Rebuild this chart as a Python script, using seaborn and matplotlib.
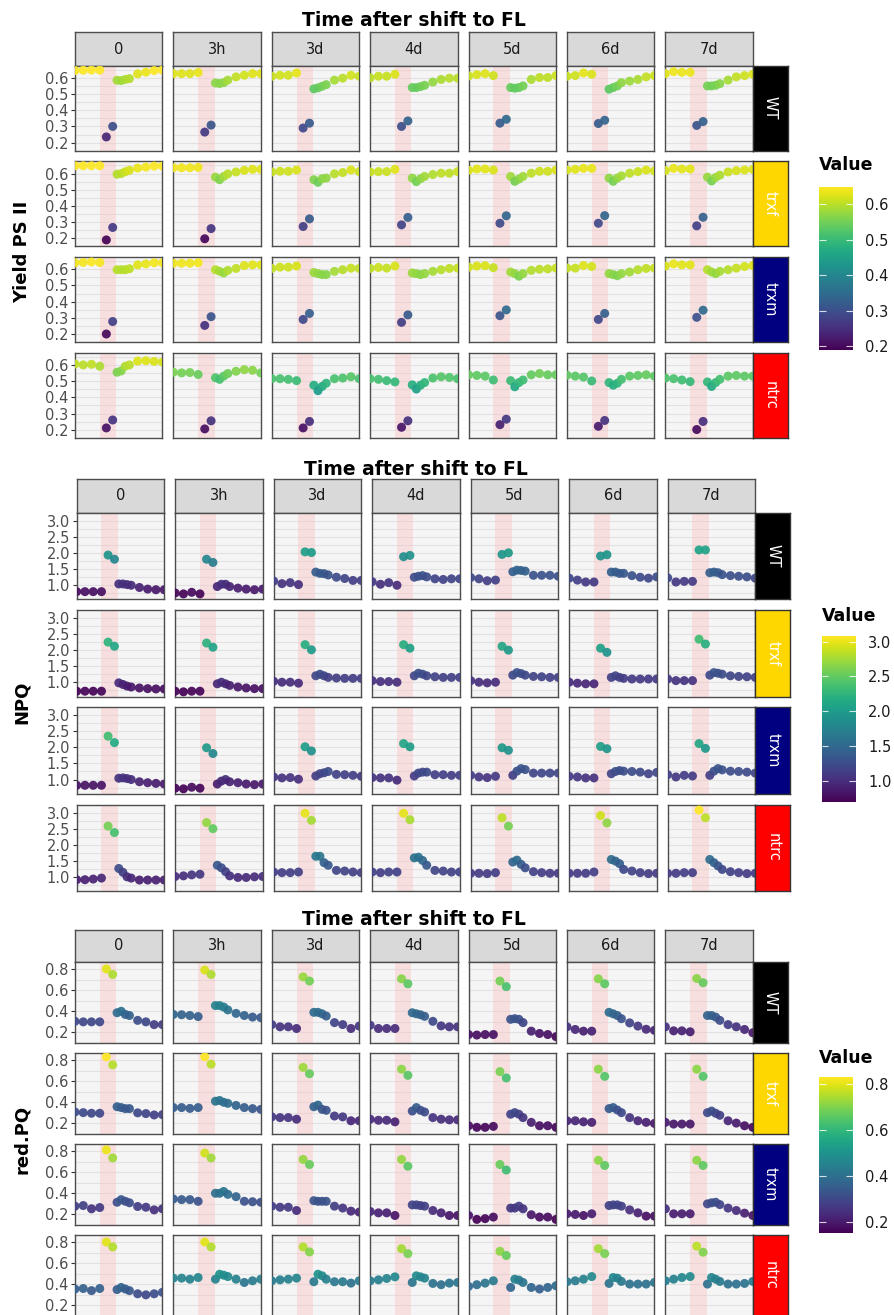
import numpy as np
import pandas as pd
import matplotlib
matplotlib.use("Agg")
import matplotlib.pyplot as plt
import seaborn as sns
from matplotlib.colors import Normalize
from matplotlib.cm import ScalarMappable
from matplotlib.ticker import FormatStrFormatter

# facets
times = ["0", "3h", "3d", "4d", "5d", "6d", "7d"]
genotypes = ["WT", "trxf", "trxm", "ntrc"]
geno_colors = ["#000000", "#FFD700", "#000080", "#FF0000"]

# measurement times inside one protocol (pre, high light, recovery)
x_time = [0, 1, 2, 3, 3.8, 4.57, 5.1, 5.6, 6.1, 6.6, 7.6, 8.6, 9.6, 10.6]

# ---- Yield PS II ----
yield_WT = [
    [0.645, 0.647, 0.648, 0.648, 0.235, 0.300, 0.585, 0.583, 0.590, 0.595, 0.625, 0.635, 0.645, 0.648],
    [0.626, 0.626, 0.626, 0.633, 0.265, 0.308, 0.568, 0.565, 0.570, 0.586, 0.606, 0.616, 0.626, 0.626],
    [0.610, 0.616, 0.616, 0.630, 0.290, 0.320, 0.532, 0.538, 0.548, 0.558, 0.586, 0.598, 0.616, 0.610],
    [0.600, 0.610, 0.610, 0.622, 0.300, 0.334, 0.540, 0.540, 0.546, 0.554, 0.574, 0.590, 0.598, 0.598],
    [0.612, 0.620, 0.626, 0.614, 0.320, 0.344, 0.540, 0.536, 0.540, 0.550, 0.590, 0.602, 0.602, 0.614],
    [0.610, 0.614, 0.630, 0.622, 0.318, 0.338, 0.530, 0.540, 0.550, 0.570, 0.580, 0.590, 0.606, 0.614],
    [0.626, 0.638, 0.634, 0.634, 0.306, 0.330, 0.550, 0.550, 0.554, 0.564, 0.586, 0.606, 0.614, 0.622],
]
yield_trxf = [
    [0.648, 0.648, 0.648, 0.648, 0.190, 0.267, 0.596, 0.600, 0.611, 0.620, 0.634, 0.640, 0.646, 0.646],
    [0.636, 0.636, 0.636, 0.638, 0.197, 0.260, 0.578, 0.562, 0.582, 0.598, 0.610, 0.620, 0.626, 0.626],
    [0.610, 0.614, 0.614, 0.622, 0.273, 0.320, 0.562, 0.546, 0.568, 0.572, 0.598, 0.606, 0.622, 0.612],
    [0.610, 0.612, 0.612, 0.626, 0.283, 0.329, 0.572, 0.550, 0.568, 0.582, 0.594, 0.602, 0.602, 0.612],
    [0.620, 0.628, 0.628, 0.622, 0.293, 0.339, 0.582, 0.552, 0.566, 0.582, 0.602, 0.614, 0.614, 0.622],
    [0.622, 0.626, 0.632, 0.632, 0.293, 0.340, 0.572, 0.552, 0.572, 0.586, 0.602, 0.612, 0.622, 0.616],
    [0.618, 0.632, 0.628, 0.628, 0.277, 0.330, 0.578, 0.554, 0.576, 0.590, 0.610, 0.618, 0.622, 0.626],
]
yield_trxm = [
    [0.640, 0.642, 0.645, 0.642, 0.200, 0.277, 0.597, 0.597, 0.597, 0.603, 0.627, 0.633, 0.640, 0.640],
    [0.637, 0.637, 0.637, 0.640, 0.253, 0.307, 0.597, 0.587, 0.577, 0.593, 0.605, 0.623, 0.627, 0.627],
    [0.605, 0.613, 0.613, 0.620, 0.290, 0.327, 0.580, 0.573, 0.567, 0.567, 0.587, 0.597, 0.607, 0.605],
    [0.605, 0.611, 0.607, 0.620, 0.272, 0.318, 0.577, 0.573, 0.567, 0.573, 0.587, 0.597, 0.605, 0.607],
    [0.613, 0.620, 0.622, 0.610, 0.313, 0.349, 0.583, 0.573, 0.557, 0.573, 0.593, 0.600, 0.602, 0.607],
    [0.607, 0.607, 0.623, 0.617, 0.290, 0.327, 0.573, 0.567, 0.560, 0.573, 0.583, 0.597, 0.605, 0.607],
    [0.620, 0.633, 0.627, 0.627, 0.303, 0.347, 0.597, 0.583, 0.573, 0.587, 0.597, 0.607, 0.617, 0.623],
]
yield_ntrc = [
    [0.606, 0.600, 0.604, 0.592, 0.211, 0.260, 0.555, 0.563, 0.592, 0.600, 0.624, 0.626, 0.622, 0.618],
    [0.555, 0.551, 0.553, 0.541, 0.205, 0.255, 0.521, 0.511, 0.531, 0.547, 0.561, 0.571, 0.567, 0.551],
    [0.515, 0.515, 0.511, 0.503, 0.211, 0.251, 0.475, 0.441, 0.467, 0.487, 0.515, 0.519, 0.527, 0.515],
    [0.515, 0.511, 0.503, 0.495, 0.215, 0.255, 0.477, 0.451, 0.475, 0.491, 0.519, 0.527, 0.523, 0.515],
    [0.539, 0.535, 0.531, 0.507, 0.231, 0.265, 0.503, 0.465, 0.491, 0.507, 0.539, 0.547, 0.539, 0.539],
    [0.537, 0.531, 0.525, 0.501, 0.221, 0.257, 0.491, 0.475, 0.487, 0.511, 0.531, 0.535, 0.539, 0.531],
    [0.519, 0.515, 0.507, 0.497, 0.201, 0.251, 0.495, 0.467, 0.491, 0.511, 0.531, 0.535, 0.531, 0.531],
]

# ---- NPQ ----
npq_WT = [
    [0.79, 0.79, 0.79, 0.79, 1.93, 1.80, 1.03, 1.03, 1.01, 0.99, 0.92, 0.87, 0.85, 0.85],
    [0.75, 0.72, 0.77, 0.72, 1.80, 1.70, 0.95, 1.02, 1.02, 0.95, 0.90, 0.87, 0.85, 0.87],
    [1.12, 1.04, 1.07, 1.01, 2.03, 2.01, 1.40, 1.36, 1.35, 1.31, 1.24, 1.20, 1.14, 1.14],
    [1.10, 1.02, 1.07, 0.99, 1.88, 1.92, 1.24, 1.27, 1.29, 1.25, 1.19, 1.17, 1.19, 1.19],
    [1.23, 1.19, 1.13, 1.15, 1.95, 2.00, 1.41, 1.46, 1.45, 1.43, 1.30, 1.30, 1.30, 1.27],
    [1.21, 1.15, 1.09, 1.09, 1.90, 1.94, 1.40, 1.40, 1.36, 1.36, 1.29, 1.24, 1.21, 1.25],
    [1.22, 1.09, 1.11, 1.11, 2.09, 2.09, 1.38, 1.40, 1.38, 1.32, 1.29, 1.27, 1.25, 1.21],
]
npq_trxf = [
    [0.72, 0.72, 0.72, 0.72, 2.25, 2.12, 0.98, 0.93, 0.88, 0.85, 0.82, 0.80, 0.79, 0.79],
    [0.72, 0.70, 0.72, 0.72, 2.22, 2.09, 0.95, 1.00, 0.95, 0.90, 0.85, 0.82, 0.80, 0.80],
    [1.03, 1.00, 1.00, 0.97, 2.17, 2.01, 1.20, 1.25, 1.20, 1.15, 1.13, 1.12, 1.12, 1.12],
    [1.05, 1.02, 1.02, 1.00, 2.17, 2.06, 1.20, 1.28, 1.25, 1.20, 1.17, 1.15, 1.15, 1.15],
    [1.05, 1.00, 0.98, 1.00, 2.12, 2.00, 1.22, 1.30, 1.27, 1.22, 1.18, 1.17, 1.15, 1.15],
    [1.00, 0.97, 0.95, 0.95, 2.06, 1.93, 1.15, 1.20, 1.15, 1.12, 1.10, 1.10, 1.10, 1.10],
    [1.10, 1.05, 1.05, 1.05, 2.34, 2.19, 1.22, 1.30, 1.28, 1.25, 1.20, 1.18, 1.17, 1.15],
]
npq_trxm = [
    [0.82, 0.82, 0.82, 0.82, 2.35, 2.15, 1.04, 1.05, 1.03, 1.00, 0.93, 0.90, 0.88, 0.86],
    [0.73, 0.71, 0.76, 0.73, 1.99, 1.81, 0.86, 0.95, 1.00, 0.93, 0.90, 0.86, 0.84, 0.86],
    [1.08, 1.05, 1.06, 1.01, 2.02, 1.89, 1.11, 1.18, 1.21, 1.25, 1.16, 1.15, 1.13, 1.10],
    [1.06, 1.05, 1.05, 0.98, 2.12, 2.02, 1.11, 1.20, 1.23, 1.23, 1.15, 1.15, 1.13, 1.13],
    [1.13, 1.08, 1.06, 1.10, 1.99, 1.91, 1.13, 1.26, 1.34, 1.31, 1.20, 1.20, 1.20, 1.20],
    [1.10, 1.08, 1.05, 1.05, 2.03, 1.96, 1.18, 1.25, 1.28, 1.26, 1.25, 1.23, 1.18, 1.22],
    [1.15, 1.08, 1.13, 1.11, 2.12, 1.97, 1.13, 1.26, 1.34, 1.30, 1.26, 1.25, 1.23, 1.20],
]
npq_ntrc = [
    [0.91, 0.91, 0.93, 0.96, 2.58, 2.38, 1.26, 1.14, 1.00, 0.96, 0.90, 0.90, 0.90, 0.90],
    [1.01, 1.03, 1.06, 1.08, 2.69, 2.50, 1.36, 1.28, 1.16, 1.03, 0.98, 0.98, 1.00, 1.01],
    [1.15, 1.13, 1.13, 1.15, 2.98, 2.76, 1.64, 1.64, 1.44, 1.36, 1.20, 1.18, 1.15, 1.13],
    [1.15, 1.13, 1.15, 1.15, 2.98, 2.78, 1.59, 1.61, 1.51, 1.36, 1.20, 1.18, 1.15, 1.15],
    [1.11, 1.11, 1.10, 1.13, 2.84, 2.58, 1.46, 1.52, 1.39, 1.28, 1.16, 1.13, 1.11, 1.11],
    [1.11, 1.11, 1.11, 1.15, 2.91, 2.68, 1.54, 1.49, 1.41, 1.23, 1.18, 1.13, 1.10, 1.11],
    [1.11, 1.11, 1.13, 1.13, 3.08, 2.84, 1.54, 1.44, 1.34, 1.23, 1.16, 1.13, 1.10, 1.11],
]

# ---- red.PQ ----
pq_WT = [
    [0.305, 0.300, 0.300, 0.300, 0.800, 0.748, 0.386, 0.400, 0.370, 0.360, 0.314, 0.300, 0.274, 0.274],
    [0.370, 0.367, 0.360, 0.350, 0.790, 0.748, 0.454, 0.454, 0.440, 0.413, 0.380, 0.360, 0.345, 0.340],
    [0.274, 0.253, 0.253, 0.237, 0.725, 0.686, 0.390, 0.390, 0.376, 0.355, 0.293, 0.274, 0.237, 0.260],
    [0.268, 0.237, 0.237, 0.237, 0.707, 0.660, 0.386, 0.376, 0.367, 0.352, 0.305, 0.262, 0.253, 0.253],
    [0.180, 0.175, 0.180, 0.180, 0.686, 0.633, 0.324, 0.330, 0.324, 0.293, 0.212, 0.190, 0.180, 0.160],
    [0.253, 0.228, 0.212, 0.212, 0.707, 0.660, 0.390, 0.376, 0.360, 0.330, 0.290, 0.260, 0.230, 0.220],
    [0.253, 0.215, 0.215, 0.206, 0.710, 0.670, 0.360, 0.360, 0.345, 0.314, 0.274, 0.253, 0.228, 0.197],
]
pq_trxf = [
    [0.308, 0.302, 0.296, 0.296, 0.830, 0.754, 0.358, 0.350, 0.340, 0.340, 0.300, 0.293, 0.280, 0.283],
    [0.350, 0.350, 0.342, 0.350, 0.830, 0.760, 0.410, 0.417, 0.400, 0.390, 0.370, 0.350, 0.340, 0.333],
    [0.262, 0.255, 0.255, 0.240, 0.730, 0.670, 0.358, 0.373, 0.333, 0.324, 0.270, 0.262, 0.225, 0.225],
    [0.240, 0.230, 0.230, 0.215, 0.713, 0.655, 0.317, 0.350, 0.324, 0.308, 0.255, 0.240, 0.234, 0.234],
    [0.178, 0.163, 0.163, 0.172, 0.690, 0.630, 0.287, 0.302, 0.287, 0.255, 0.210, 0.178, 0.178, 0.163],
    [0.225, 0.225, 0.215, 0.210, 0.713, 0.645, 0.340, 0.350, 0.327, 0.302, 0.255, 0.225, 0.210, 0.200],
    [0.210, 0.194, 0.194, 0.194, 0.713, 0.645, 0.302, 0.317, 0.296, 0.277, 0.225, 0.203, 0.178, 0.163],
]
pq_trxm = [
    [0.278, 0.284, 0.253, 0.265, 0.810, 0.734, 0.315, 0.340, 0.324, 0.310, 0.275, 0.268, 0.243, 0.253],
    [0.346, 0.340, 0.340, 0.324, 0.780, 0.734, 0.400, 0.400, 0.417, 0.390, 0.368, 0.324, 0.320, 0.315],
    [0.278, 0.268, 0.268, 0.237, 0.720, 0.672, 0.330, 0.324, 0.324, 0.324, 0.278, 0.260, 0.231, 0.222],
    [0.228, 0.215, 0.215, 0.190, 0.720, 0.656, 0.290, 0.290, 0.284, 0.278, 0.237, 0.215, 0.190, 0.190],
    [0.190, 0.153, 0.160, 0.175, 0.672, 0.620, 0.260, 0.260, 0.278, 0.253, 0.197, 0.175, 0.175, 0.153],
    [0.206, 0.200, 0.190, 0.206, 0.712, 0.663, 0.284, 0.290, 0.290, 0.278, 0.243, 0.215, 0.184, 0.184],
    [0.253, 0.206, 0.206, 0.206, 0.712, 0.663, 0.300, 0.310, 0.315, 0.293, 0.260, 0.237, 0.212, 0.190],
]
pq_ntrc = [
    [0.355, 0.360, 0.340, 0.360, 0.800, 0.753, 0.350, 0.370, 0.355, 0.340, 0.310, 0.300, 0.310, 0.324],
    [0.458, 0.458, 0.448, 0.464, 0.800, 0.753, 0.448, 0.495, 0.486, 0.473, 0.448, 0.417, 0.433, 0.448],
    [0.433, 0.442, 0.448, 0.458, 0.753, 0.706, 0.424, 0.495, 0.480, 0.448, 0.424, 0.424, 0.411, 0.433],
    [0.433, 0.442, 0.455, 0.470, 0.737, 0.690, 0.417, 0.480, 0.470, 0.458, 0.408, 0.396, 0.411, 0.417],
    [0.380, 0.396, 0.411, 0.433, 0.712, 0.672, 0.370, 0.448, 0.440, 0.417, 0.370, 0.355, 0.370, 0.386],
    [0.424, 0.433, 0.448, 0.473, 0.737, 0.690, 0.408, 0.464, 0.458, 0.427, 0.402, 0.402, 0.402, 0.417],
    [0.433, 0.448, 0.464, 0.473, 0.760, 0.703, 0.402, 0.464, 0.448, 0.427, 0.402, 0.402, 0.408, 0.427],
]


def to_long(per_geno):
    rows = []
    for g, arr in zip(genotypes, per_geno):
        for t, vals in zip(times, arr):
            for x, v in zip(x_time, vals):
                rows.append((g, t, x, v))
    return pd.DataFrame(rows, columns=["genotype", "time", "x", "value"])


blocks = [
    dict(df=to_long([yield_WT, yield_trxf, yield_trxm, yield_ntrc]), ylabel="Yield PS II",
         ylim=(0.17, 0.675), major=np.arange(0.2, 0.61, 0.1), minor=np.arange(0.15, 0.66, 0.05),
         cticks=[0.2, 0.3, 0.4, 0.5, 0.6],
         title_y=26.5, strip_y=32.3, strip_h=33.4, row0=65.7, row_step=95.7, row_h=85,
         col0=75, col_step=98.4, col_w=87.4, cbar=(819, 187, 34, 163), value_y=170.5),
    dict(df=to_long([npq_WT, npq_trxf, npq_trxm, npq_ntrc]), ylabel="NPQ",
         ylim=(0.555, 3.19), major=np.arange(1.0, 3.01, 0.5), minor=np.arange(0.75, 3.3, 0.25),
         cticks=[1.0, 1.5, 2.0, 2.5, 3.0],
         title_y=475, strip_y=479.3, strip_h=33.4, row0=512.7, row_step=97.3, row_h=86.5,
         col0=76.7, col_step=98.5, col_w=87.5, cbar=(821.7, 636, 34, 166), value_y=621.5),
    dict(df=to_long([pq_WT, pq_trxf, pq_trxm, pq_ntrc]), ylabel="red.PQ",
         ylim=(0.12, 0.866), major=np.arange(0.2, 0.81, 0.2), minor=np.arange(0.1, 0.9, 0.1),
         cticks=[0.2, 0.4, 0.6, 0.8],
         title_y=925, strip_y=930, strip_h=32, row0=962, row_step=91, row_h=81,
         col0=75, col_step=98.4, col_w=87.4, cbar=(819, 1077.3, 34, 155.4), value_y=1063.3),
]

W, H = 895, 1315
fig = plt.figure(figsize=(W / 100, H / 100), dpi=100)


def ax_px(x, y, w, h):
    return fig.add_axes([x / W, 1 - (y + h) / H, w / W, h / H])


def frame(ax, color="#4D4D4D"):
    for sp in ax.spines.values():
        sp.set_color(color)
        sp.set_linewidth(1.0)


for b in blocks:
    df = b["df"]
    vmin, vmax = df["value"].min(), df["value"].max()
    norm = Normalize(vmin, vmax)

    fig.text((b["col0"] + 6 * b["col_step"] + b["col_w"] + b["col0"]) / 2 / W, 1 - b["title_y"] / H,
             "Time after shift to FL", ha="center", va="baseline", fontsize=13.5, fontweight="bold")

    for j, t in enumerate(times):
        left = b["col0"] + j * b["col_step"]
        sax = ax_px(left, b["strip_y"], b["col_w"], b["strip_h"])
        sax.set_facecolor("#D9D9D9")
        sax.set_xticks([])
        sax.set_yticks([])
        frame(sax)
        sax.text(0.5, 0.5, t, ha="center", va="center", fontsize=10.5, color="#1A1A1A",
                 transform=sax.transAxes)

        for i, g in enumerate(genotypes):
            top = b["row0"] + i * b["row_step"]
            ax = ax_px(left, top, b["col_w"], b["row_h"])
            ax.set_facecolor("#F5F5F5")
            ax.axvspan(3, 5, color="#FFC0C0", alpha=0.4, lw=0, zorder=1)
            sub = df[(df["genotype"] == g) & (df["time"] == t)]
            sns.scatterplot(data=sub, x="x", y="value", hue="value", palette="viridis",
                            hue_norm=norm, legend=False, s=42, linewidth=0, alpha=0.92,
                            ax=ax, zorder=3)
            ax.set_xlim(0, 10.6)
            ax.set_ylim(*b["ylim"])
            ax.set_yticks(b["major"])
            ax.set_yticks(b["minor"], minor=True)
            ax.yaxis.set_major_formatter(FormatStrFormatter("%.1f"))
            ax.grid(which="both", axis="y", color="#E2E2E2", lw=0.8, zorder=0)
            ax.set_axisbelow(True)
            ax.set_xticks([])
            ax.set_xlabel("")
            ax.set_ylabel("")
            ax.tick_params(axis="y", which="minor", length=0)
            if j == 0:
                ax.tick_params(axis="y", which="major", length=2.8, width=0.8, pad=2,
                               color="#333333", labelcolor="#4D4D4D", labelsize=10.5)
            else:
                ax.tick_params(axis="y", which="major", length=0, labelleft=False)
            frame(ax)

            if j == len(times) - 1:
                rax = ax_px(left + b["col_w"], top, 35, b["row_h"])
                rax.set_facecolor(geno_colors[i])
                rax.set_xticks([])
                rax.set_yticks([])
                frame(rax, "#333333")
                rax.text(0.5, 0.5, g, rotation=270, ha="center", va="center", fontsize=10.5,
                         color="white", transform=rax.transAxes)

    # y title
    y_mid = b["row0"] + (3 * b["row_step"] + b["row_h"]) / 2
    fig.text(22 / W, 1 - y_mid / H, b["ylabel"], rotation=90, ha="center", va="center",
             fontsize=13, fontweight="bold")

    # colour bar legend
    cx, cy, cw, ch = b["cbar"]
    cax = ax_px(cx, cy, cw, ch)
    cb = fig.colorbar(ScalarMappable(norm=norm, cmap="viridis"), cax=cax)
    cb.outline.set_visible(False)
    cb.set_ticks(b["cticks"])
    cb.ax.yaxis.set_major_formatter(FormatStrFormatter("%.1f"))
    cb.ax.tick_params(length=0, labelsize=10.5, pad=9, labelcolor="#1A1A1A")
    for tv in b["cticks"]:
        cax.hlines(tv, 0, 0.2, colors="white", lw=0.8, alpha=0.8)
        cax.hlines(tv, 0.8, 1.0, colors="white", lw=0.8, alpha=0.8)
    fig.text(cx / W, 1 - b["value_y"] / H, "Value", ha="left", va="baseline", fontsize=12.5,
             fontweight="bold")

fig.savefig("out.png", dpi=100)
